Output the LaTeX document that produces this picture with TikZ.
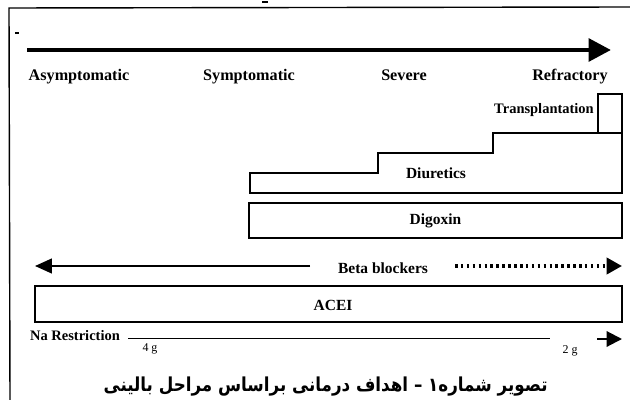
\documentclass[tikz,border=0pt]{standalone}
\usepackage{fontspec}
\usepackage{graphicx}
\setmainfont{Liberation Serif}
\newfontfamily\arabicfont[Script=Arabic]{DejaVu Sans}
\TeXXeTstate=1
\usetikzlibrary{arrows.meta}
\begin{document}
\begin{tikzpicture}[x=0.025cm,y=-0.025cm,
  stage/.style={font=\fontsize{11.5}{13}\selectfont\bfseries, inner sep=0pt, anchor=base},
  drug/.style={font=\fontsize{11}{13}\selectfont\bfseries, inner sep=0pt},
  small/.style={font=\fontsize{10.3}{12}\selectfont\bfseries, inner sep=0pt},
  tiny/.style={font=\fontsize{8.5}{10}\selectfont, inner sep=0pt},
  boxline/.style={draw=black, line width=0.9pt},
  bar/.style={draw=black, line width=0.9pt, minimum height=0.875cm, inner sep=0pt},
  mainarrow/.style={line width=3.4pt, -{Triangle[length=16pt,width=16pt]}},
  thinarrow/.style={line width=1.3pt, -{Triangle[length=12pt,width=10.5pt]}},
  dotarrow/.style={line width=2.6pt, dash pattern=on 1.8pt off 2.4pt, -{Triangle[length=11pt,width=11.5pt,sep=0pt]}},
  frame/.style={line width=1pt}
]
\path[fill=white] (0,0) rectangle (630,400);
\useasboundingbox (0,0) rectangle (630,400);

% frame
\coordinate (ftl) at (9,8);
\coordinate (ftr) at (630,7);
\coordinate (fbl) at (10,400);
\draw[frame] (ftr) -- (ftl) -- (fbl);
\coordinate (m1a) at (262,2); \coordinate (m1b) at (268,2);
\draw[line width=1.2pt] (m1a) -- (m1b);
\coordinate (m2a) at (15,33); \coordinate (m2b) at (19,33);
\draw[line width=1.2pt] (m2a) -- (m2b);

% main axis
\coordinate (axs) at (27,50);
\coordinate (axe) at (611,50);
\draw[mainarrow] (axs) -- (axe);

\node[stage] (asym) at (79,81) {Asymptomatic};
\node[stage] (sym) at (249,81) {Symptomatic};
\node[stage] (sev) at (404,81) {Severe};
\node[stage] (ref) at (570,81) {Refractory};

% transplantation
\node[small, anchor=base] (trt) at (544,114) {Transplantation};
\node[draw=black, line width=0.9pt, minimum width=0.6cm, minimum height=0.975cm, inner sep=0pt] (trbox) at (610,113.5) {};

% diuretics staircase
\draw[boxline] (250,193) -- (250,173) -- (378,173) -- (378,153) -- (493,153) -- (493,133) -- (622,133) -- (622,193) -- cycle;
\node[drug] (diu) at (436,173) {Diuretics};

% digoxin
\node[bar, minimum width=9.325cm] (dig) at (435.5,220.5) {};
\node[drug] (digt) at (dig) {Digoxin};

% beta blockers
\node[drug] (beta) at (383,268) {Beta blockers};
\coordinate (bl1) at (310,266);
\coordinate (bl0) at (35,266);
\draw[thinarrow] (bl1) -- (bl0);
\coordinate (bd0) at (455,266);
\coordinate (bd1) at (622,266);
\draw[dotarrow] (bd0) -- (bd1);

% ACEI
\node[bar, minimum width=14.675cm, minimum height=0.9cm] (acei) at (328.5,304) {};
\node[drug] (acet) at (333,305) {ACEI};

% Na restriction
\node[small] (na) at (75,336) {Na Restriction};
\coordinate (nl0) at (128,338.5);
\coordinate (nl1) at (550,338.5);
\draw[line width=1.3pt] (nl0) -- (nl1);
\node[tiny] (g4) at (150,349) {4 g};
\node[tiny] (g2) at (570,351) {2 g};
\coordinate (na0) at (597,339);
\coordinate (na1) at (622,339);
\draw[line width=1.5pt, -{Triangle[length=11pt,width=11pt]}] (na0) -- (na1);

% caption
\node[inner sep=0pt, anchor=base east] (cap) at (548,391) {\scalebox{1}[1.15]{\resizebox{11.1cm}{!}{\arabicfont\bfseries\fontsize{14}{16}\selectfont\beginR تصویر شماره۱ – اهداف درمانی براساس مراحل بالینی\endR}}};
\end{tikzpicture}
\end{document}
